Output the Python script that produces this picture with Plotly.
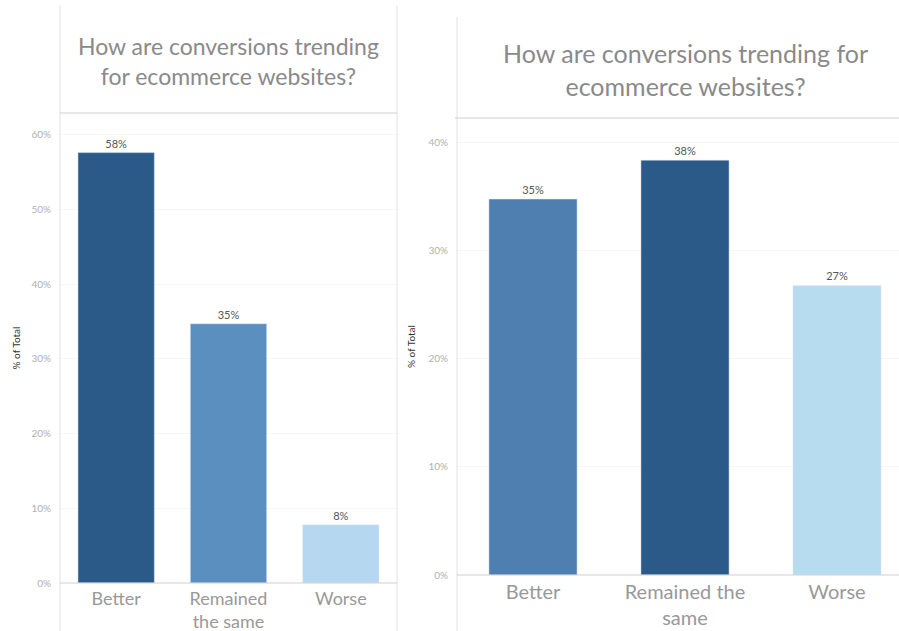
import plotly.graph_objects as go

# Survey results: share of respondents per answer, two versions of the chart
categories = ["Better", "Remained<br>the same", "Worse"]
categories_right = ["Better", "Remained the<br>same", "Worse"]
left_values = [57.6, 34.7, 7.8]
right_values = [34.8, 38.4, 26.8]
left_colors = ["#2c5a88", "#5b8fc0", "#b5d7ef"]
right_colors = ["#4e7fb0", "#2c5a88", "#b7dbef"]
left_ticks = [0, 10, 20, 30, 40, 50, 60]
right_ticks = [0, 10, 20, 30, 40]
title_text = "How are conversions trending<br>for ecommerce websites?"
title_text_right = "How are conversions trending for<br>ecommerce websites?"

W, H = 899, 631
FONT = "Lato, Open Sans, sans-serif"


def px(x):
    return x / W


def py(y):
    return 1 - y / H


fig = go.Figure()

fig.add_trace(go.Bar(
    x=categories, y=left_values, marker_color=left_colors, width=0.68,
    text=[f"{v:.0f}%" for v in left_values], textposition="outside",
    textfont=dict(size=11, color="#555555", family=FONT),
    cliponaxis=False, xaxis="x", yaxis="y", showlegend=False,
))
fig.add_trace(go.Bar(
    x=categories_right, y=right_values, marker_color=right_colors, width=0.58,
    text=[f"{v:.0f}%" for v in right_values], textposition="outside",
    textfont=dict(size=11, color="#555555", family=FONT),
    cliponaxis=False, xaxis="x2", yaxis="y2", showlegend=False,
))

axis_common = dict(
    showline=False, zeroline=False, ticks="", automargin=False,
    tickfont=dict(size=10, color="#b0b0b0", family=FONT),
)

fig.update_layout(
    width=W, height=H,
    margin=dict(l=0, r=0, t=0, b=0, autoexpand=False),
    paper_bgcolor="white", plot_bgcolor="white",
    bargap=0.3,
    xaxis=dict(
        domain=[px(60), px(397)], range=[-0.5, 2.5], anchor="y",
        tickfont=dict(size=18, color="#999999", family=FONT),
        ticklabelstandoff=3, automargin=False,
        showgrid=False, showline=False, zeroline=False, ticks="",
    ),
    yaxis=dict(
        domain=[py(583), py(113)], range=[0, 62.9], anchor="x",
        tickvals=left_ticks, ticktext=[f"{t}%" for t in left_ticks],
        showgrid=True, gridcolor="#f6f6f6", ticklabelstandoff=8,
        title=dict(text="% of Total", font=dict(size=10, color="#333333", family=FONT), standoff=8),
        **axis_common,
    ),
    xaxis2=dict(
        domain=[px(457), 1.0], range=[-0.5, -0.5 + 442 / 152], anchor="y2",
        tickfont=dict(size=20, color="#999999", family=FONT),
        ticklabelstandoff=3, automargin=False,
        showgrid=False, showline=False, zeroline=False, ticks="",
    ),
    yaxis2=dict(
        domain=[py(575), py(118)], range=[0, 42.3], anchor="x2",
        tickvals=right_ticks, ticktext=[f"{t}%" for t in right_ticks],
        showgrid=True, gridcolor="#f6f6f6", ticklabelstandoff=8,
        title=dict(text="% of Total", font=dict(size=10, color="#333333", family=FONT), standoff=10),
        **axis_common,
    ),
)

# Panel frames, title separators and baselines
line_gray = dict(color="#e2e2e2", width=1)
sep_gray = dict(color="#cfcfcf", width=1)
shapes = [
    dict(type="line", xref="paper", yref="paper", x0=px(60), x1=px(60), y0=py(5), y1=0, line=line_gray),
    dict(type="line", xref="paper", yref="paper", x0=px(397), x1=px(397), y0=py(5), y1=0, line=line_gray),
    dict(type="line", xref="paper", yref="paper", x0=px(60), x1=px(397), y0=py(113), y1=py(113), line=sep_gray),
    dict(type="line", xref="paper", yref="paper", x0=px(60), x1=px(397), y0=py(583), y1=py(583), line=sep_gray),
    dict(type="line", xref="paper", yref="paper", x0=px(457), x1=px(457), y0=py(17), y1=0, line=line_gray),
    dict(type="line", xref="paper", yref="paper", x0=px(455), x1=1, y0=py(118), y1=py(118), line=sep_gray),
    dict(type="line", xref="paper", yref="paper", x0=px(457), x1=1, y0=py(575), y1=py(575), line=sep_gray),
]
fig.update_layout(shapes=shapes)

fig.add_annotation(
    text=title_text, xref="paper", yref="paper", x=px(228), y=py(61),
    showarrow=False, xanchor="center", yanchor="middle", align="center",
    font=dict(size=23, color="#8a8a8a", family=FONT),
)
fig.add_annotation(
    text=title_text_right, xref="paper", yref="paper", x=px(685), y=py(69),
    showarrow=False, xanchor="center", yanchor="middle", align="center",
    font=dict(size=25, color="#8a8a8a", family=FONT),
)

fig.write_html("out.html")
